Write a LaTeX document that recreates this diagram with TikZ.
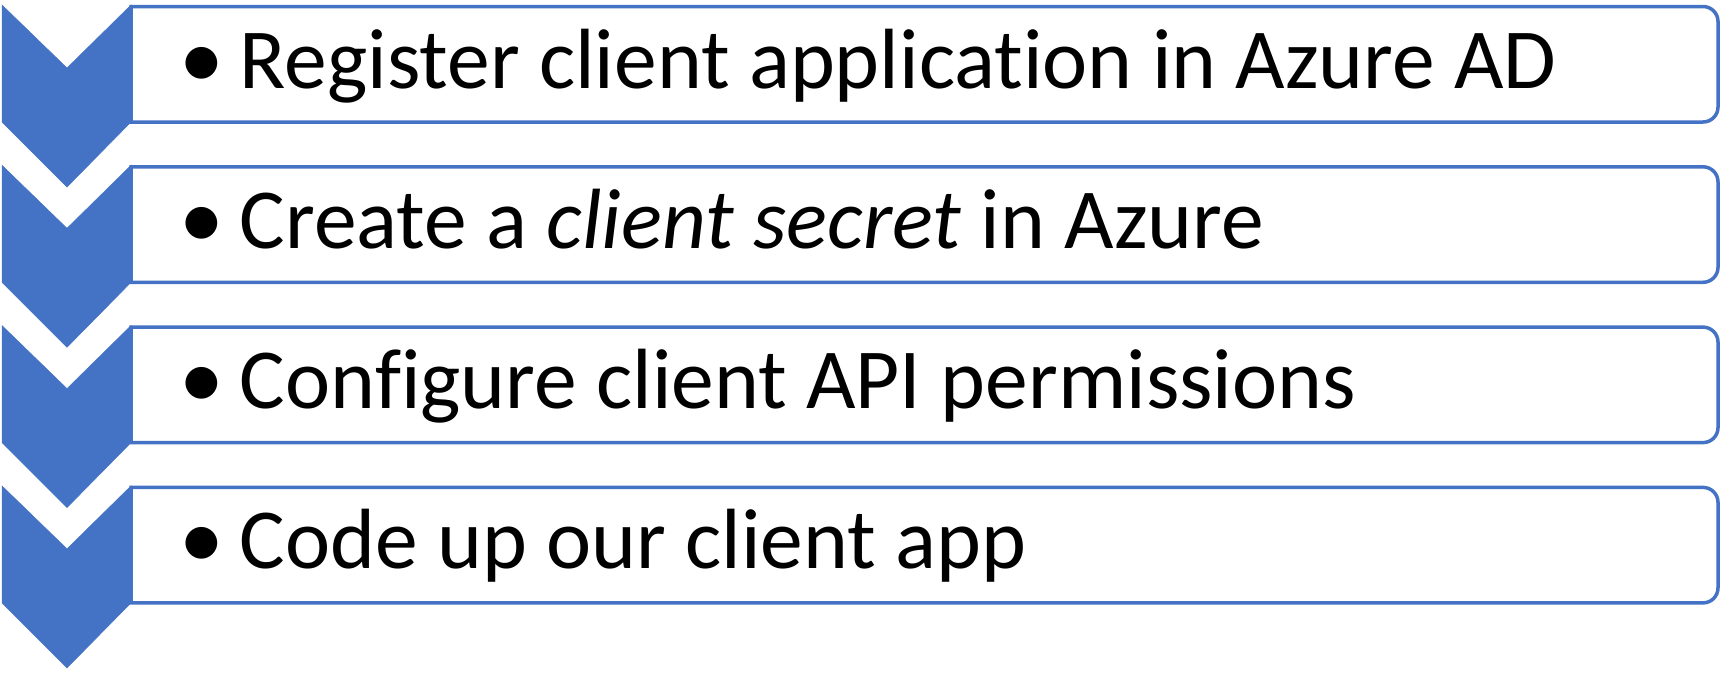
\documentclass[tikz,border=0pt]{standalone}
\usepackage{fontspec}
\setmainfont[Ligatures=NoCommon]{Carlito}
\definecolor{obl}{HTML}{4472C4}
\begin{document}
\begin{tikzpicture}[x=1pt,y=1pt,
  chev/.style={fill=obl,draw=obl,line width=0.5pt},
  boxln/.style={draw=obl,fill=white,line width=3.5pt},
  lbl/.style={anchor=base west,inner sep=0pt,font=\fontsize{85.5}{100}\selectfont,text=black}]
\useasboundingbox (0,0) rectangle (1725,-675);
\foreach \i/\txt in {0/{Register client application in Azure AD},
                     1/{Create a \textit{client secret} in Azure},
                     2/{Configure client API permissions},
                     3/{Code up our client app}}{
  \pgfmathsetmacro{\t}{5+160.3*\i}
  \pgfmathsetmacro{\b}{\t+117}
  \draw[boxln] (131,-\t-1.5) -- (1703,-\t-1.5) arc[start angle=90,end angle=0,radius=15]
     -- (1718,-\b+15) arc[start angle=0,end angle=-90,radius=15] -- (131,-\b) -- cycle;
  \fill[chev] (2,-\t) -- (67,-\t-63) -- (131,-\t) -- (131,-\b) -- (67,-\t-182) -- (2,-\b) -- cycle;
  \node[lbl] (t\i) at (179,-\t-83) {\scalebox{1.05}{•}\hspace{16pt}\txt};
}
\end{tikzpicture}
\end{document}
